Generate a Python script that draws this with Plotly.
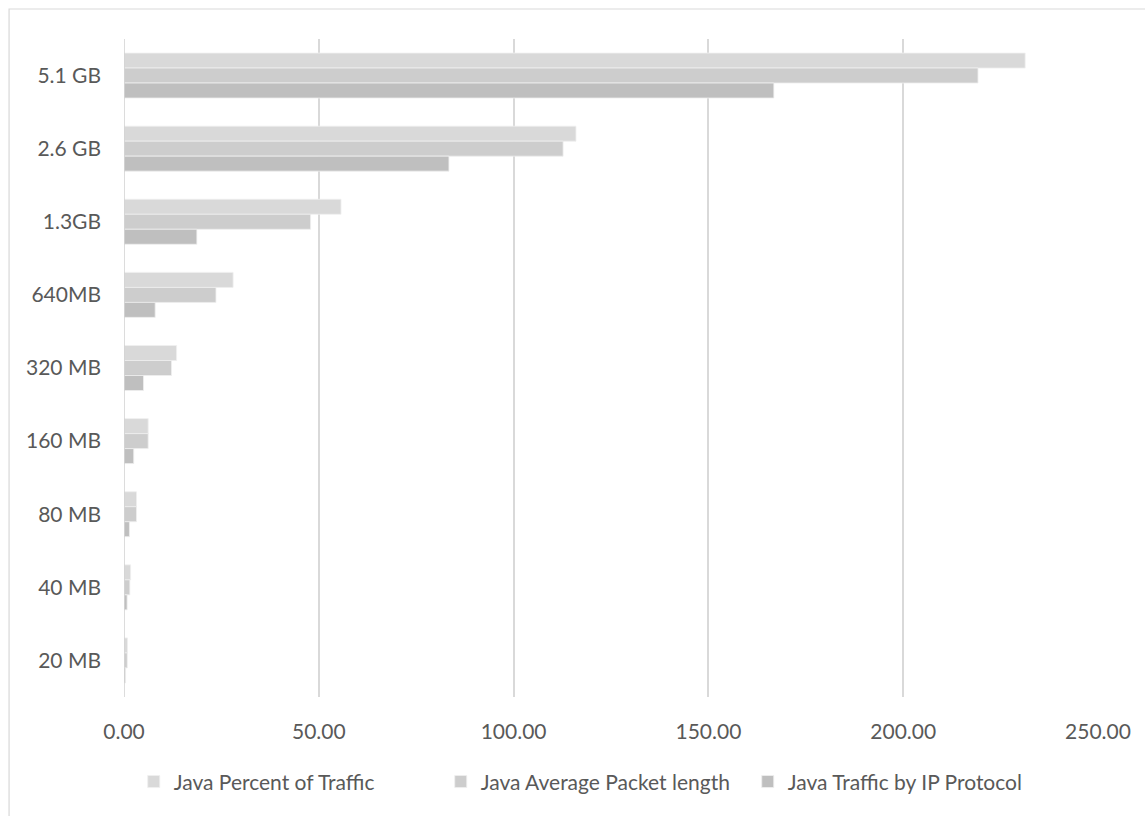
import plotly.graph_objects as go

categories = ["5.1 GB", "2.6 GB", "1.3GB", "640MB", "320 MB", "160 MB", "80 MB", "40 MB", "20 MB"]
percent_of_traffic = [231.3, 116.0, 55.7, 28.0, 13.5, 6.2, 3.2, 1.7, 0.9]
avg_packet_length = [219.2, 112.7, 47.9, 23.6, 12.2, 6.2, 3.2, 1.5, 0.85]
traffic_by_ip = [166.8, 83.4, 18.7, 8.0, 5.0, 2.5, 1.4, 0.8, 0.4]

series_names = ["Java Percent of Traffic", "Java Average Packet length", "Java Traffic by IP Protocol"]
series_values = [percent_of_traffic, avg_packet_length, traffic_by_ip]
series_colors = ["#D9D9D9", "#CDCDCD", "#BFBFBF"]
x_ticks = [0, 50, 100, 150, 200, 250]

FONT = "Lato"
TXT = "#595959"
FS = 21

fig = go.Figure()
for name, vals, col in zip(series_names, series_values, series_colors):
    fig.add_trace(go.Bar(
        y=categories, x=vals, name=name, orientation="h",
        marker=dict(color=col, line=dict(color="#EFEFEF", width=0.8)),
    ))

fig.update_layout(
    width=1145, height=816,
    margin=dict(l=124, r=47, t=39, b=119),
    paper_bgcolor="white", plot_bgcolor="white",
    barmode="group", bargap=0.385, bargroupgap=0,
    font=dict(family=FONT, size=FS, color=TXT),
    showlegend=True,
    legend=dict(orientation="h", x=0.01, xanchor="left", y=-0.129, yanchor="middle",
                font=dict(family=FONT, size=FS, color=TXT), itemwidth=30,
                entrywidth=262, entrywidthmode="pixels",
                traceorder="normal"),
    xaxis=dict(range=[0, 250], tickvals=x_ticks, tickformat=".2f",
               showgrid=True, gridcolor="#D9D9D9", gridwidth=1.5,
               zeroline=False, showline=False, ticks="", ticklabelstandoff=20,
               tickfont=dict(family=FONT, size=FS, color=TXT), fixedrange=True),
    yaxis=dict(autorange="reversed", showgrid=False, zeroline=False,
               showline=False, ticks="", ticklabelstandoff=22,
               tickfont=dict(family=FONT, size=FS, color=TXT)),
    shapes=[
        dict(type="line", xref="x", yref="paper", x0=0, x1=0, y0=0, y1=1,
             line=dict(color="#D0D0D0", width=1.5), layer="above"),
        dict(type="rect", xref="paper", yref="paper", x0=-0.118, x1=1.08, y0=-0.25, y1=1.0456,
             line=dict(color="#D9D9D9", width=1.2), fillcolor="rgba(0,0,0,0)"),
    ],
)

fig.write_html("out.html")
